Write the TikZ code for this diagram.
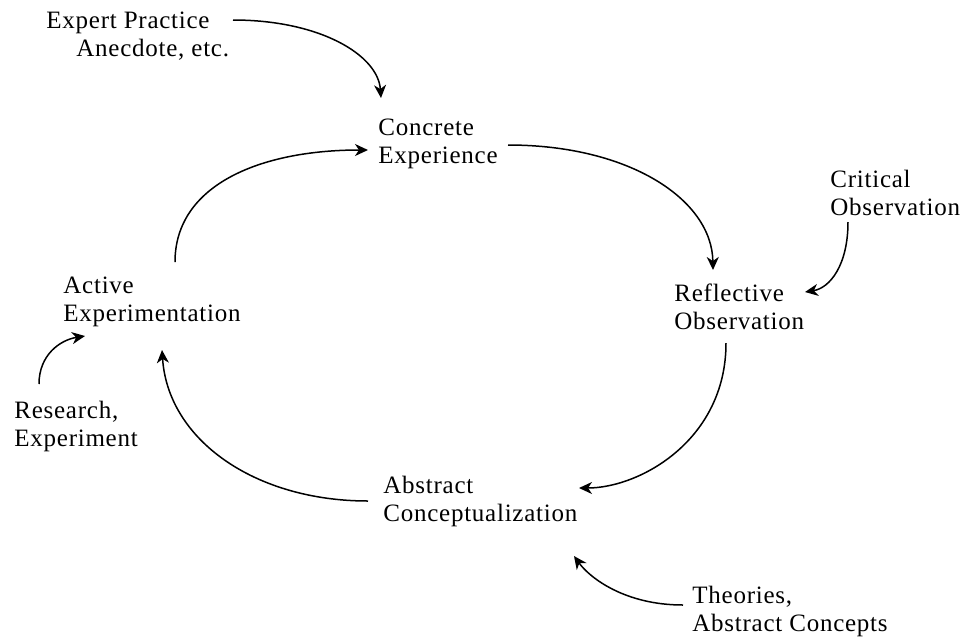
\documentclass[tikz,border=0pt]{standalone}
\usepackage{fontspec}
\setmainfont[LetterSpace=3]{Liberation Serif}
\usetikzlibrary{arrows.meta}
\begin{document}
\begin{tikzpicture}[x=0.5pt,y=-0.5pt,
  lbl/.style={anchor=north west,inner sep=0pt,align=left,font=\fontsize{12.5}{14}\selectfont},
  conn/.style={line width=0.75pt,-{Stealth[length=6.5pt,width=6pt,inset=2pt]}}]
\useasboundingbox[fill=white] (0,0) rectangle (965,639);
\node[lbl] (exp) at (46,12) {Expert Practice\\\hspace*{15pt}Anecdote, etc.};
\node[lbl] (ce) at (378,119) {Concrete\\Experience};
\node[lbl] (cr) at (830,170) {Critical\\Observation};
\node[lbl] (ro) at (674,283) {Reflective\\Observation};
\node[lbl] (ae) at (63,277) {Active\\Experimentation};
\node[lbl] (re) at (14,401) {Research,\\Experiment};
\node[lbl] (ac) at (383,476) {Abstract\\Conceptualization};
\node[lbl] (th) at (692,586) {Theories,\\Abstract Concepts};
% connector ends
\coordinate (a1) at (233,20);  \coordinate (b1) at (381,98);
\coordinate (a2) at (175,262); \coordinate (b2) at (368,150);
\coordinate (a3) at (508,145); \coordinate (b3) at (713,270);
\coordinate (a4) at (848,222); \coordinate (b4) at (805,292);
\coordinate (a5) at (726,343); \coordinate (b5) at (579,488);
\coordinate (a6) at (368,501); \coordinate (b6) at (162,350);
\coordinate (a7) at (39,384);  \coordinate (b7) at (85,336);
\coordinate (a8) at (683,605); \coordinate (b8) at (574,556);
\draw[conn] (a1) .. controls (320,20) and (378,55) .. (b1);
\draw[conn] (a2) .. controls (175,185) and (260,150) .. (b2);
\draw[conn] (a3) .. controls (630,145) and (712,200) .. (b3);
\draw[conn] (a4) .. controls (848,265) and (830,288) .. (b4);
\draw[conn] (a5) .. controls (726,440) and (640,488) .. (b5);
\draw[conn] (a6) .. controls (255,501) and (168,440) .. (b6);
\draw[conn] (a7) .. controls (39,355) and (60,340) .. (b7);
\draw[conn] (a8) .. controls (625,605) and (590,578) .. (b8);
\end{tikzpicture}
\end{document}
